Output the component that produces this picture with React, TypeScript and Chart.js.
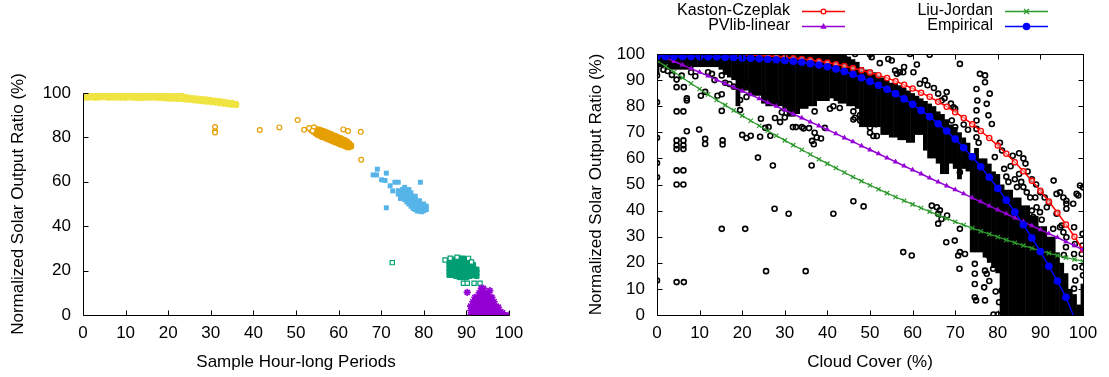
import { useEffect, useRef } from 'react';
import { Chart, registerables } from 'chart.js';

Chart.register(...registerables);

// ---------------- shared ticks ----------------
const xTicks = [0, 10, 20, 30, 40, 50, 60, 70, 80, 90, 100];
const leftYTicks = [0, 20, 40, 60, 80, 100];
const rightYTicks = [0, 10, 20, 30, 40, 50, 60, 70, 80, 90, 100];

// ---------------- left panel data ----------------
const yellowX = [0,1,2,3,4,5,6,7,8,9,10,11,12,13,14,15,16,17,18,19,20,21,22,23,24,25,26,27,28,29,30,31,32,33,34,35,36];
const yellowUpper = [99.6,99.5,99.6,99.4,99.5,99.6,99.5,99.4,99.5,99.3,99.4,99.3,99.2,99.3,99.0,99.2,99.0,99.1,98.9,98.9,99.3,98.8,98.7,99.6,98.3,98.0,97.8,97.6,97.4,97.2,97.0,96.7,96.5,96.2,95.9,95.6,95.2];
const yellowLower = [97.6,97.8,97.9,97.7,97.9,98.0,97.8,97.9,97.8,97.8,97.7,97.9,97.7,97.6,97.6,97.8,97.8,97.7,97.6,97.5,97.4,97.3,97.3,97.2,97.0,96.8,96.6,96.4,96.2,96.0,95.8,95.6,95.3,95.0,94.8,94.6,94.5];

const orangeX = [53.5,54,54.5,55,55.5,56,56.5,57,57.5,58,58.5,59,59.5,60,60.5,61,61.5,62,62.5,63];
const orangeMid = [83.4,83.1,82.8,82.4,82.1,81.7,81.4,81.0,80.6,80.2,79.8,79.4,79.0,78.6,78.2,77.8,77.4,77.0,76.6,76.2];
const orangeUpper = [83.6,83.6,83.9,83.8,83.6,83.3,83.0,82.6,82.2,81.8,81.4,81.0,80.6,80.2,79.8,79.3,78.9,78.4,77.6,76.6];
const orangeLower = [83.2,82.6,81.8,81.0,80.6,80.1,79.8,79.4,79.0,78.6,78.2,77.8,77.4,77.0,76.6,76.3,75.9,75.5,75.4,75.8];
const orangeOutliers = [[31,84.7],[31,82.8],[31,82.2],[41.5,83.3],[46.1,84.5],[50.4,87.8],[51.9,83.4],[53.1,84.2],[54.2,84.6],[53.9,83.0],[61.1,83.6],[62.2,82.9],[65.2,82.5],[65.3,69.9]];

const skyBluePoints = [
  [74,56],[74,54.5],[75,56.5],[75,55],[75,53.5],[76,55.5],[76,54],[76,52.5],[76,51],
  [77,55],[77,53.5],[77,52],[77,50.5],[77,49],[78,53.5],[78,52],[78,50.5],[78,49],[78,47.5],
  [79,51.5],[79,50],[79,48.5],[79,47],[80,50],[80,48.5],[80,47],[80.6,49],[80.6,47.5],[75.5,57.5],[76.5,56.5],
  [74.5,52.5],[75.5,52],[76.5,50],[77.5,48],[78.5,46.8],[79.5,46.5],
  [69.1,65.7],[71.2,63.9],[68.1,63.1],[68.9,63.1],[70.1,60.9],[70.9,60.6],[73.2,59.8],[74,59.8],
  [72.1,58.2],[72.7,55.9],[79.2,59.8],[71.2,48.3]
];

const greenBlob = [
  [86,18],[86,19.5],[86,21],[86,22.5],[86,24],
  [86.8,18],[86.8,19.5],[86.8,21],[86.8,22.5],[86.8,24],[86.8,25],
  [87.6,17.5],[87.6,19],[87.6,20.5],[87.6,22],[87.6,23.5],[87.6,25],
  [88.4,17],[88.4,18.5],[88.4,20],[88.4,21.5],[88.4,23],[88.4,24.5],[88.4,25.5],
  [89.2,17],[89.2,18.5],[89.2,20],[89.2,21.5],[89.2,23],[89.2,24.5],[89.2,25.5],
  [90,17],[90,18.5],[90,20],[90,21.5],[90,23],[90,24.5],
  [90.8,17.5],[90.8,19],[90.8,20.5],[90.8,22],[90.8,23.5],
  [91.6,18],[91.6,19.5],[91.6,21],[91.6,22.5],
  [92.4,17.5],[92.4,19],[92.4,20.5]
];
const greenOutliers = [[72.6,23.6],[85,24.8],[86.2,25.6],[87.8,26],[90.5,25.5],[91.2,23.9],[89.3,14.3],[90.2,14.3],[91.8,14.3],[93.2,14.3]];

const purplePoints = [
  [90.2,10.2],
  [91,0],[91,2],[91,4],
  [91.5,0],[91.5,2],[91.5,4],[91.5,6],
  [92,0],[92,2],[92,4],[92,6],[92,8],
  [92.5,0],[92.5,2],[92.5,4],[92.5,6],[92.5,8],
  [93,0],[93,2],[93,4],[93,6],[93,8],[93,10],
  [93.5,0],[93.5,2],[93.5,4],[93.5,6],[93.5,8],[93.5,10],[93.5,12],
  [94,0],[94,2],[94,4],[94,6],[94,8],[94,10],[94,12],
  [94.5,0],[94.5,2],[94.5,4],[94.5,6],[94.5,8],[94.5,9.7],
  [95,0],[95,2],[95,4],[95,6],[95,8],[95,10],
  [95.5,0],[95.5,2],[95.5,4],[95.5,6],[95.5,8],[95.5,11],
  [96,0],[96,2],[96,4],[96,6],[96,8],
  [96.5,0],[96.5,2],[96.5,4],[96.5,6],
  [97,0],[97,2],[97,4],
  [97.5,0],[97.5,2],[97.5,3.5],
  [98,0],[98,1.5],[98.5,0],[98.5,1],[99,0],[100,0]
];

// ---------------- right panel data ----------------
const curveX = [0,2,4,6,8,10,12,14,16,18,20,22,24,26,28,30,32,34,36,38,40,42,44,46,48,50,52,54,56,58,60,62,64,66,68,70,72,74,76,78,80,82,84,86,88,90,92,94,96,98,100];
const kastonCzeplak = [100,100,100,100,100,100,99.9,99.9,99.9,99.8,99.7,99.6,99.4,99.2,99,98.8,98.4,98.1,97.7,97.2,96.7,96.1,95.4,94.6,93.8,92.9,91.9,90.8,89.6,88.2,86.8,85.2,83.6,81.7,79.8,77.7,75.5,73.1,70.5,67.8,64.9,61.8,58.5,55.1,51.4,47.6,43.5,39.2,34.7,30,25];
const liuJordan = [97.5,95.3,93.1,90.9,88.7,86.6,84.5,82.4,80.4,78.4,76.4,74.4,72.5,70.6,68.7,66.9,65.1,63.3,61.5,59.7,58,56.3,54.6,52.9,51.3,49.7,48.2,46.7,45.2,43.8,42.4,41,39.6,38.3,37,35.7,34.5,33.3,32.1,31,29.9,28.8,27.7,26.6,25.6,24.6,23.7,22.8,22,21.3,20.6];
const pvlibLinear = [100,98.6,97.2,95.8,94.4,93,91.6,90.1,88.7,87.3,85.8,84.4,82.9,81.4,80,78.5,77,75.5,74,72.5,71,69.5,67.9,66.4,64.8,63.3,61.8,60.2,58.7,57.1,55.6,54.1,52.5,51,49.5,48,46.5,44.9,43.4,41.8,40.3,38.8,37.2,35.7,34.2,32.7,31.2,29.7,28.1,26.6,25];
const empiricalX = [0,2,4,6,8,10,12,14,16,18,20,22,24,26,28,30,32,34,36,38,40,42,44,46,48,50,52,54,56,58,60,62,64,66,68,70,72,74,76,78,80,82,84,86,88,90,92,94,96,97.7];
const empirical = [99,99,99,99,99,99,98.9,98.9,98.8,98.7,98.5,98.4,98.2,98,97.8,97.5,97.2,96.8,96.3,95.8,95.1,94.3,93.3,92.2,90.9,89.5,88,86.5,84.8,82.8,80.7,78.4,76,73.3,70.5,67.4,64.1,60.6,56.8,52.8,48.5,44,39.4,34.6,29.5,24.3,18.7,13,6.8,0];

// dense observation columns: [cloud cover, low ratio, high ratio]
const denseColumns = [
  [0,92,100],[1,95,100],[2,95,100],[3,94,100],[4,94,100],[5,94,100],[6,94,100],[7,94,100],[8,94,100],[9,95,100],
  [10,95,100],[11,95,100],[12,95,100],[13,95,100],[14,95,100],[15,94,100],[16,92,100],[17,91,100],[18,90,100],[19,80,100],
  [20,86,100],[21,86,100],[22,84,100],[23,84,100],[24,84,100],[25,81,100],[26,80,100],[27,80,100],[28,80,100],[29,80,100],
  [30,79,100],[31,76,100],[32,76,100],[33,77,100],[34,79,100],[35,79,100],[36,80,100],[37,80,100],[38,82,100],[39,82,100],
  [40,82,100],[41,83,100],[42,82,100],[43,81,100],[44,81,100],[45,80,99],[46,80,98],[47,79,97],[48,72,95],[49,72,94],
  [50,72,94],[51,72,93],[52,72,92],[53,69,91],[54,69,90],[55,68,89],[56,68,89],[57,67,88],[58,67,87],[59,66,86],
  [60,66,85],[61,69,84],[62,69,83],[63,63,82],[64,60,81],[65,60,80],[66,58,78],[67,54,77],[68,54,75],[69,58,73],
  [70,56,72],[71,52,70],[72,56,68],[73,55,66],[74,24,62],[75,24,64],[76,24,60],[77,22,60],[78,20,58],[79,18,55],
  [80,16,54],[81,0,50],[82,0,48],[83,0,48],[84,0,45],[85,0,45],[86,0,42],[87,0,42],[88,0,38],[89,0,38],
  [90,0,34],[91,0,34],[92,0,30],[93,0,30],[94,0,24],[95,0,20],[96,0,16],[97,0,10],[98,0,8],[99,0,4],[100,0,12]
];

// sparse individual observations: [cloud cover, ratio]
const sparseObs = [
  [0,91.8],[0,81.5],[0,67.9],[0,58.2],[0,52.8],[0,13.2],
  [4.6,90.2],[5.8,91.7],[4.6,87.3],[6.3,87.3],[7,83],[7,82.2],[4.6,78],[6.2,78],[7,70.4],[4.6,66.9],[6.2,66.9],
  [4.6,65],[6.2,65],[4.6,63.6],[6.2,63.6],[4.6,55.4],[6.2,55.4],[4.6,50],[6.2,50],[4.6,12.6],[6.3,12.6],
  [9.9,71.1],[11.3,67.5],[11.3,65.5],[10.3,84],[11.3,85.5],[12.9,92.4],[15.2,91.8],[15.2,84.6],[15.2,78.2],
  [15.4,66.9],[15.4,65.3],[14.2,84],[15.2,33],[20.7,33],[25.6,16.8],[34.9,16.8],
  [1.5,94],[2.5,93.5],[3.5,92],[8,93],[9,91.5],[12,93],[13.5,90],[16,89],[17,88.5],[18,87.5],
  [19.5,87.3],[19.5,82.4],[19.5,78.5],[21,89.2],[21,83.5],[20,69],[21,67.8],[22,68.7],[24.2,68.3],[26.6,68.7],
  [26.2,72],[23.7,60.3],[27.2,57.3],[27.6,40.7],[30.9,38.8],[24.4,75.2],[25.4,71.7],[29.3,77.7],[27.7,75.5],
  [28.9,73.9],[30,75.7],[31.9,72],[32.6,72],[34,72],[34.4,71.5],[35.7,71.6],[37,69.8],[36.8,65.4],[36.4,66.7],
  [37.5,68],[38.5,67.6],[39.4,71.7],[37,78],[40.6,79],[36.3,57.3],[41.4,38.8],[46.1,43.6],[48.5,41.6],
  [42.9,79.3],[41.4,80],[46.1,78],[47.7,76.6],[46.1,74.9],[46.5,75.6],[47.7,74.4],[50,69.8],[50.8,68.6],
  [51.6,68.6],[50,71.8],[51.4,73.1],
  [42.5,100],[46.5,100],[50,99.8],[59.4,100],[64,99.7],[32.4,99.4],[44.1,98.2],[50.4,98.8],
  [52.3,96.5],[54.3,98.1],[55.1,97.5],[55.9,93.7],[56.3,92.4],[57,93],[57.8,93],[60.2,93],[58,95],[61,96],
  [61.7,88.6],[62.9,89.9],[63.5,88],[65,87],[66,84.8],[66.8,82.2],[68,85.4],[67.5,83],[69,81],[70,79],
  [71.1,96.2],[69.6,79.6],[69.2,74.5],[70,72],[70.3,68.1],[71.1,59.2],[71.1,54.7],[72,73],[73,71],
  [75.8,92.4],[77,91.8],[77,89.2],[75,86.6],[78.1,84.8],[77.4,80.9],[77.8,76.5],[78.6,73.2],[79.3,60.5],
  [75.2,82.2],[75,78.4],[75,74.5],[75,71.3],[75,68.1],[75.5,66],
  [64.5,41.9],[65.7,41.3],[66.4,40.1],[66,38.8],[66.8,36.8],[66,35],[68.1,38.1],[67.9,27.9],[69.9,28.5],
  [57.8,24.1],[59.8,22.8],[71.1,33],[71.1,24.1],[70.7,22.8],[72.3,23.4],[71,17.7],
  [74.6,19.6],[74.6,15.8],[74.6,11.9],[74.6,6.8],[74.9,5.6],[77.8,22.8],[79.7,22],[77,17],[77.4,15.8],
  [78.9,17.7],[77,5.6],[76.8,10.6],[78,13],[79.5,9],[80.9,9.4],[80.3,4.9],[79,0.2],[80,0.2],
  [81.5,56],[82,53],[82.5,51],[83,57],[84,52],[84.5,49],[85,54],[85.5,51],[86.5,58],[87,55],[88,52],
  [89,50],[90,47],[91,45],[92,43],[85,62],[86,60],[81,63],[80.5,66],[83.5,61],
  [86,49],[86.8,47],[87.6,45],[88.8,45],[88,40],[89.1,41.3],[89.9,39.4],
  [93.1,51.5],[93.8,46.4],[94.6,47],[95.4,45],[96.1,43.8],[93.8,38.8],[94.6,33.6],[96.1,29.8],[88.3,37.5],
  [91.5,41.3],[90.3,36.5],[93,33],[95,34.3],[96.1,42.6],[96.1,40.7],[95.4,31.7],[96,26],[95.5,23],
  [97.9,33.6],[98.1,27.2],[97.9,23.4],[98.1,18.3],[98.2,13.2],[97.9,10.1],
  [99.9,31.1],[99.9,26.6],[99.7,23.4],[99.9,18.3],[100,15.2],
  [99.3,49.6],[100,48.9],[98.9,45.8],[97.7,42.6],[98.5,46.4]
];

// ---------------- styling ----------------
const FONT = '"Liberation Sans", Arial, Helvetica, sans-serif';
const RED = '#ff0000';
const GREEN = '#2e9a2e';
const PURPLE = '#9400d3';
const BLUE = '#0000ff';

Chart.defaults.font.family = FONT;
Chart.defaults.font.size = 17;
Chart.defaults.color = '#000';

const framePlugin = {
  id: 'frame',
  afterDatasetsDraw(chart: any, _args: any, opts: any) {
    const { ctx, chartArea: a, scales } = chart;
    const x = scales.x, y = scales.y;
    const L = 5;
    ctx.save();
    ctx.strokeStyle = '#000';
    ctx.lineWidth = 1;
    const seg = (x1: number, y1: number, x2: number, y2: number) => {
      ctx.beginPath(); ctx.moveTo(x1, y1); ctx.lineTo(x2, y2); ctx.stroke();
    };
    const L0 = Math.round(a.left) + 0.5, R0 = Math.round(a.right) + 0.5;
    const T0 = Math.round(a.top) + 0.5, B0 = Math.round(a.bottom) + 0.5;
    seg(L0, T0, L0, B0);
    seg(L0, B0, R0, B0);
    if (opts.box) { seg(L0, T0, R0, T0); seg(R0, T0, R0, B0); }
    x.ticks.forEach((t: any) => {
      const px = Math.round(x.getPixelForValue(t.value)) + 0.5;
      seg(px, B0, px, B0 - L);
      if (opts.box) seg(px, T0, px, T0 + L);
    });
    y.ticks.forEach((t: any) => {
      const py = Math.round(y.getPixelForValue(t.value)) + 0.5;
      seg(L0, py, L0 + L, py);
      if (opts.box) seg(R0, py, R0 - L, py);
    });
    ctx.restore();
  },
};

const legendPlugin = {
  id: 'customLegend',
  afterDraw(chart: any) {
    const ctx = chart.ctx;
    const items = [
      { label: 'Kaston-Czeplak', color: RED, kind: 'open', tx: 245, ty: 10.5 },
      { label: 'Liu-Jordan', color: GREEN, kind: 'x', tx: 448, ty: 10.5 },
      { label: 'PVlib-linear', color: PURPLE, kind: 'tri', tx: 245, ty: 26 },
      { label: 'Empirical', color: BLUE, kind: 'dot', tx: 448, ty: 26 },
    ];
    ctx.save();
    ctx.font = '16px ' + FONT;
    ctx.textAlign = 'right';
    ctx.textBaseline = 'middle';
    items.forEach((it) => {
      ctx.fillStyle = '#000';
      ctx.fillText(it.label, it.tx, it.ty);
      const x1 = it.tx + 12, x2 = it.tx + 55, cx = (x1 + x2) / 2, cy = Math.round(it.ty) + 0.5;
      ctx.strokeStyle = it.color;
      ctx.fillStyle = it.color;
      ctx.lineWidth = 1.3;
      ctx.beginPath(); ctx.moveTo(x1, cy); ctx.lineTo(x2, cy); ctx.stroke();
      if (it.kind === 'open') {
        ctx.beginPath(); ctx.arc(cx, cy, 2.4, 0, Math.PI * 2); ctx.fillStyle = '#fff'; ctx.fill(); ctx.stroke();
      } else if (it.kind === 'x') {
        ctx.beginPath(); ctx.moveTo(cx - 2.5, cy - 2.5); ctx.lineTo(cx + 2.5, cy + 2.5);
        ctx.moveTo(cx - 2.5, cy + 2.5); ctx.lineTo(cx + 2.5, cy - 2.5); ctx.stroke();
      } else if (it.kind === 'tri') {
        ctx.beginPath(); ctx.moveTo(cx, cy - 3.4); ctx.lineTo(cx + 3.2, cy + 2.2); ctx.lineTo(cx - 3.2, cy + 2.2); ctx.closePath(); ctx.fill();
      } else {
        ctx.beginPath(); ctx.arc(cx, cy, 3.8, 0, Math.PI * 2); ctx.fill();
      }
    });
    ctx.restore();
  },
};

const pts = (arr: number[][]) => arr.map(([x, y]) => ({ x, y }));

function axisOptions(ticksX: number[], ticksY: number[], xTitle: string, yTitle: string, yAxisWidth: number, yTitlePad: number) {
  return {
    x: {
      type: 'linear', min: 0, max: 100, offset: false,
      grid: { display: false, drawTicks: false, offset: false },
      border: { display: false },
      afterBuildTicks: (s: any) => { s.ticks = ticksX.map((v) => ({ value: v })); },
      afterFit: (s: any) => { s.height = 62; },
      ticks: { padding: 8, maxRotation: 0, autoSkip: false, color: '#000' },
      title: { display: true, text: xTitle, color: '#000', padding: { top: 0, bottom: 4.8 } },
    },
    y: {
      type: 'linear', min: 0, max: 100,
      grid: { display: false, drawTicks: false },
      border: { display: false },
      afterBuildTicks: (s: any) => { s.ticks = ticksY.map((v) => ({ value: v })); },
      afterFit: (s: any) => { s.width = yAxisWidth; },
      ticks: { padding: 12, autoSkip: false, color: '#000' },
      title: { display: true, text: yTitle, color: '#000', padding: { top: yTitlePad, bottom: 0 } },
    },
  };
}

export default function App() {
  const leftRef = useRef<HTMLCanvasElement>(null);
  const rightRef = useRef<HTMLCanvasElement>(null);

  useEffect(() => {
    const yellowPts = yellowX.flatMap((x, i) => [{ x, y: yellowUpper[i] }, { x, y: yellowLower[i] }]);
    const orangePts = orangeX.flatMap((x, i) => [
      { x, y: orangeUpper[i] }, { x, y: orangeMid[i] }, { x, y: orangeLower[i] },
    ]);

    const left = new Chart(leftRef.current as HTMLCanvasElement, {
      type: 'scatter',
      data: {
        datasets: [
          { data: pts(purplePoints), pointStyle: 'star', pointRadius: 3.6, borderColor: PURPLE, backgroundColor: PURPLE, pointBorderWidth: 1.6 },
          { data: pts(greenOutliers), pointStyle: 'rect', pointRadius: 3, borderColor: '#009e73', backgroundColor: '#fff', pointBorderWidth: 1.2 },
          { data: pts(greenBlob), pointStyle: 'rect', pointRadius: 3.4, borderColor: '#009e73', backgroundColor: '#009e73', pointBorderWidth: 1 },
          { data: pts(skyBluePoints), pointStyle: 'rect', pointRadius: 3.5, borderColor: '#56b4e9', backgroundColor: '#56b4e9', pointBorderWidth: 0 },
          { data: pts(orangeOutliers), pointStyle: 'circle', pointRadius: 2.4, borderColor: '#e69f00', backgroundColor: '#fff', pointBorderWidth: 1.2 },
          { data: orangePts, pointStyle: 'circle', pointRadius: 2.8, borderColor: '#e69f00', backgroundColor: '#e69f00', pointBorderWidth: 0 },
          { data: yellowPts, pointStyle: 'circle', pointRadius: 2.9, borderColor: '#f0e442', backgroundColor: '#f0e442', pointBorderWidth: 0 },
        ],
      },
      options: {
        animation: false,
        responsive: false,
        events: [],
        layout: { padding: { top: 93, right: 36, left: 0, bottom: 0 } },
        plugins: { legend: { display: false }, tooltip: { enabled: false }, frame: { box: false } },
        scales: axisOptions(xTicks, leftYTicks, 'Sample Hour-long Periods', 'Normalized Solar Output Ratio (%)', 83, 7.8) as any,
      } as any,
      plugins: [framePlugin],
    });

    const right = new Chart(rightRef.current as HTMLCanvasElement, {
      type: 'scatter',
      data: {
        datasets: [
          {
            label: 'Empirical', order: 0, showLine: true,
            data: empiricalX.map((x, i) => ({ x, y: empirical[i] })),
            borderColor: BLUE, backgroundColor: BLUE, borderWidth: 1.5,
            pointRadius: empiricalX.map((_, i) => (i === empiricalX.length - 1 ? 0 : 3.8)),
            pointBorderWidth: 0, pointBackgroundColor: BLUE,
          },
          {
            label: 'PVlib-linear', order: 1, showLine: true,
            data: curveX.map((x, i) => ({ x, y: pvlibLinear[i] })),
            borderColor: PURPLE, backgroundColor: PURPLE, borderWidth: 1.5,
            pointStyle: 'triangle', pointRadius: 3.2, pointBorderWidth: 0,
          },
          {
            label: 'Liu-Jordan', order: 2, showLine: true,
            data: curveX.map((x, i) => ({ x, y: liuJordan[i] })),
            borderColor: GREEN, backgroundColor: GREEN, borderWidth: 1.3,
            pointStyle: 'crossRot', pointRadius: 3, pointBorderWidth: 1.2,
          },
          {
            label: 'Kaston-Czeplak', order: 3, showLine: true,
            data: curveX.map((x, i) => ({ x, y: kastonCzeplak[i] })),
            borderColor: RED, backgroundColor: 'rgba(255,255,255,0.5)', borderWidth: 1.5,
            pointStyle: 'circle', pointRadius: 2.6, pointBorderWidth: 1.3,
          },
          {
            label: 'obs', order: 4,
            data: pts(sparseObs),
            borderColor: '#000', backgroundColor: 'rgba(0,0,0,0)',
            pointStyle: 'circle', pointRadius: 2.5, pointBorderWidth: 1.6,
          },
          {
            type: 'bar', label: 'dense', order: 5,
            data: denseColumns.map(([c, lo, hi]) => ({ x: c, y: [lo, hi] })),
            backgroundColor: '#000', borderWidth: 0, barThickness: 4.8, inflateAmount: 0, grouped: false,
          } as any,
        ],
      },
      options: {
        animation: false,
        responsive: false,
        events: [],
        layout: { padding: { top: 54, right: 26, left: 0, bottom: 0 } },
        plugins: { legend: { display: false }, tooltip: { enabled: false }, frame: { box: true } },
        scales: axisOptions(xTicks, rightYTicks, 'Cloud Cover (%)', 'Normalized Solar Output Ratio (%)', 112, 40.8) as any,
      } as any,
      plugins: [framePlugin, legendPlugin],
    });

    return () => { left.destroy(); right.destroy(); };
  }, []);

  return (
    <div style={{ position: 'fixed', left: 0, top: 0, width: 1109, height: 377, background: '#fff' }}>
      <canvas ref={leftRef} width={545} height={377} style={{ position: 'absolute', left: 0, top: 0, width: 545, height: 377 }} />
      <canvas ref={rightRef} width={564} height={377} style={{ position: 'absolute', left: 545, top: 0, width: 564, height: 377 }} />
    </div>
  );
}
